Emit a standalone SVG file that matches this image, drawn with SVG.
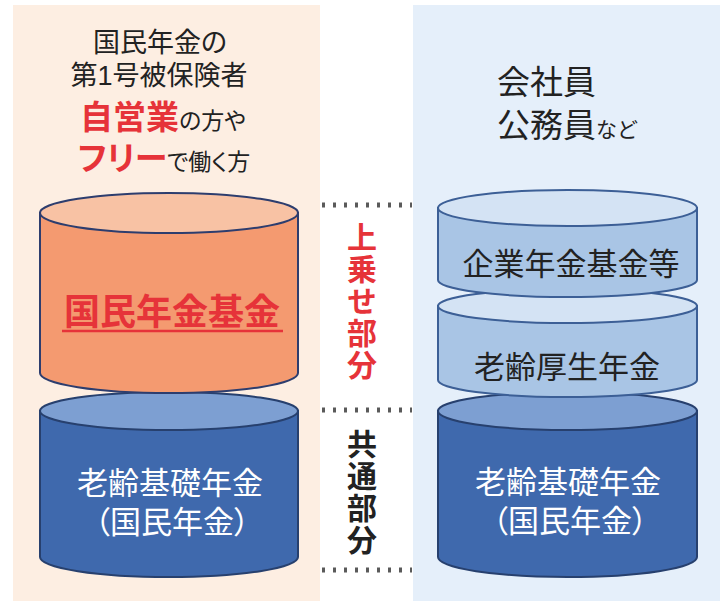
<svg xmlns="http://www.w3.org/2000/svg" width="725" height="601" viewBox="0 0 725 601">
<style>
text{font-family:"Liberation Sans","Noto Sans CJK JP","Noto Sans CJK SC",sans-serif}
.dk{fill:#222}
.red{fill:#e63339;font-weight:bold}
.wt{fill:#ffffff}
.mid{text-anchor:middle}
.palt{font-feature-settings:"palt"}
.vert{font-family:"Noto Sans CJK JP","Noto Sans CJK SC",sans-serif;writing-mode:vertical-rl;text-anchor:middle;font-size:30px;font-weight:bold;letter-spacing:2px}
.cylO{fill:#f49a70;stroke:#2d3d6e;stroke-width:2}
.topO{fill:#f8c2a4;stroke:#2d3d6e;stroke-width:2}
.cylB{fill:#3f69ad;stroke:#27406e;stroke-width:2}
.topB{fill:#7d9fd2;stroke:#27406e;stroke-width:2}
.cylL{fill:#a9c5e5;stroke:#3c5f96;stroke-width:2}
.topL{fill:#d4e3f4;stroke:#3c5f96;stroke-width:2}
.dots{stroke:#5a5a5a;stroke-width:5;stroke-dasharray:3 8;fill:none}
</style>
<rect width="725" height="601" fill="#ffffff"/>
<g id="panel-left">
<rect x="13" y="5" width="307" height="596" fill="#fdeee2"/>
<text class="mid palt"><tspan class="dk" x="160" y="52" font-size="27">国民年金の</tspan><tspan class="dk" x="159" y="85" font-size="27">第1号被保険者</tspan><tspan x="163" y="129"><tspan class="red" font-size="33">自営業</tspan><tspan class="dk" font-size="23">の方や</tspan></tspan><tspan x="164" y="170"><tspan class="red" font-size="33">フリー</tspan><tspan class="dk" font-size="23">で働く方</tspan></tspan></text>
</g>
<g id="panel-right">
<rect x="413" y="5" width="307" height="596" fill="#e5effa"/>
<text class="dk"><tspan x="497" y="94" font-size="33">会社員</tspan><tspan x="497" y="137" font-size="33">公務員</tspan><tspan font-size="21">など</tspan></text>
</g>
<g id="cyl-left-basic">
<path class="cylB" d="M40,411 V557 A129,20 0 0 0 298,557 V411 Z"/>
<ellipse class="topB" cx="169" cy="411" rx="129" ry="19"/>
<text class="wt mid" font-size="31"><tspan x="170" y="494">老齢基礎年金</tspan><tspan class="palt" x="172" y="533">（国民年金）</tspan></text>
</g>
<g id="cyl-left-fund">
<path class="cylO" d="M40,213 V373 A129,20 0 0 0 298,373 V213 Z"/>
<ellipse class="topO" cx="169" cy="213" rx="129" ry="20"/>
<text class="red mid" x="172" y="325" font-size="36">国民年金基金</text>
<line x1="62" y1="331" x2="283" y2="331" stroke="#e63339" stroke-width="2.5"/>
</g>
<g id="cyl-right-basic">
<path class="cylB" d="M438,411 V557 A129.5,20 0 0 0 697,557 V411 Z"/>
<ellipse class="topB" cx="567.5" cy="411" rx="129.5" ry="19"/>
<text class="wt mid" font-size="31"><tspan x="568" y="493">老齢基礎年金</tspan><tspan class="palt" x="570" y="532">（国民年金）</tspan></text>
</g>
<g id="cyl-right-employee">
<path class="cylL" d="M438,306 V380 A129.5,17 0 0 0 697,380 V306 Z"/>
<ellipse class="topL" cx="567.5" cy="306" rx="129.5" ry="17"/>
<text class="dk mid" x="567" y="378" font-size="31">老齢厚生年金</text>
</g>
<g id="cyl-right-corporate">
<path class="cylL" d="M438,208 V280 A129.5,17 0 0 0 697,280 V208 Z"/>
<ellipse class="topL" cx="567.5" cy="208" rx="129.5" ry="18"/>
<text class="dk mid" x="571" y="275" font-size="31">企業年金基金等</text>
</g>
<g id="label-upper">
<text class="vert" x="362" y="302" fill="#e63339">上乗せ部分</text>
</g>
<g id="label-common">
<text class="vert" x="362" y="493" fill="#222">共通部分</text>
</g>
<g id="connectors">
<line class="dots" x1="322" y1="205" x2="412" y2="205"/>
<line class="dots" x1="322" y1="410" x2="412" y2="410"/>
<line class="dots" x1="322" y1="570" x2="412" y2="570"/>
</g>
</svg>
